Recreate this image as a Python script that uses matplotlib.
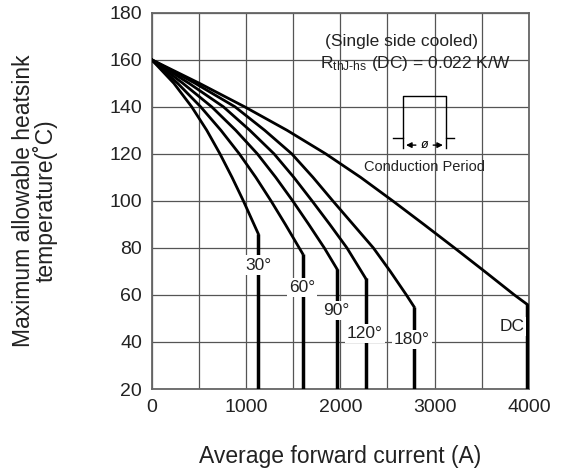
import matplotlib
matplotlib.use('Agg')
import matplotlib.pyplot as plt
from matplotlib.patches import Rectangle

plt.rcParams['font.family'] = ['Liberation Sans', 'DejaVu Sans']
plt.rcParams['mathtext.fontset'] = 'custom'
plt.rcParams['mathtext.rm'] = 'Liberation Sans'
plt.rcParams['mathtext.it'] = 'Liberation Sans:italic'

# temperature levels (degC) and matching current (A)
temp_30 = [160, 150, 140, 130, 120, 110, 100, 86, 20]
curr_30 = [0, 235, 424, 584, 724, 852, 972, 1130, 1130]

temp_60 = [160, 150, 140, 130, 120, 110, 100, 90, 80, 77.5, 20]
curr_60 = [0, 275, 519, 734, 929, 1104, 1265, 1417, 1564, 1601, 1601]

temp_90 = [160, 150, 140, 130, 120, 110, 100, 90, 80, 71, 20]
curr_90 = [0, 330, 636, 891, 1120, 1315, 1495, 1665, 1830, 1965, 1965]

temp_120 = [160, 150, 140, 130, 120, 110, 100, 90, 80, 67, 20]
curr_120 = [0, 395, 760, 1040, 1297, 1507, 1700, 1888, 2070, 2269, 2269]

temp_180 = [160, 150, 140, 130, 120, 110, 100, 90, 80, 70, 60, 55, 20]
curr_180 = [0, 460, 883, 1198, 1485, 1710, 1920, 2135, 2350, 2530, 2700, 2781, 2781]

temp_dc = [160, 150, 140, 130, 120, 110, 100, 90, 80, 70, 60, 56, 20]
curr_dc = [0, 505, 985, 1435, 1845, 2215, 2555, 2885, 3210, 3530, 3845, 3980, 3980]

curve_labels = ['30°', '60°', '90°', '120°', '180°', 'DC']
label_x = [1130, 1597, 1954, 2261, 2756, 3816]
label_y = [72.7, 63.0, 53.5, 43.6, 41.0, 46.7]

fig = plt.figure(figsize=(5.63, 4.70), dpi=100)
ax = fig.add_axes([0.2694, 0.1723, 0.6702, 0.8007])

ax.set_xlim(0, 4000)
ax.set_ylim(20, 180)
ax.set_xticks(range(0, 4001, 1000))
ax.set_xticks(range(500, 4000, 1000), minor=True)
ax.set_yticks(range(20, 181, 20))
ax.grid(True, which='both', color='#555555', lw=0.9, zorder=0)
ax.tick_params(which='both', length=0, labelsize=14, pad=7, colors='#222222')
for s in ax.spines.values():
    s.set_color('#666666')
    s.set_linewidth(1.3)

# white areas behind the annotation block
ax.add_patch(Rectangle((1678, 148), 3767 - 1678, 174.8 - 148, fc='white', ec='none', zorder=1))
ax.add_patch(Rectangle((2166, 108.8), 3565 - 2166, 145 - 108.8, fc='white', ec='none', zorder=1))

for xs, ys in [(curr_30, temp_30), (curr_60, temp_60), (curr_90, temp_90),
               (curr_120, temp_120), (curr_180, temp_180), (curr_dc, temp_dc)]:
    ax.plot(xs[:-1], ys[:-1], color='black', lw=2.0, solid_joinstyle='round', zorder=3)
    # vertical limit part is drawn a bit heavier
    ax.plot(xs[-2:], ys[-2:], color='black', lw=2.5, solid_capstyle='butt', zorder=3)

for lab, lx, ly in zip(curve_labels, label_x, label_y):
    ax.text(lx, ly, lab, fontsize=12.5, ha='center', va='center', color='#222222', zorder=4,
            bbox=dict(fc='white', ec='none', pad=1.5))

ax.text(2648, 167.7, '(Single side cooled)', fontsize=12.5, ha='center', va='center', zorder=4, color='#222222')
ax.text(2797, 158.5, r'R$_{\mathrm{thJ}\text{-}\mathrm{hs}}$ (DC) = 0.022 K/W', fontsize=12.5,
        ha='center', va='center', zorder=4, color='#222222')

# conduction period pulse sketch
ax.plot([2555, 2667, 2667, 3117, 3117, 3208], [126.6, 126.6, 144.7, 144.7, 126.6, 126.6],
        color='black', lw=1.0, zorder=4)
ax.plot([2667, 2667], [126.6, 122.3], color='black', lw=1.0, zorder=4)
ax.plot([3117, 3117], [126.6, 122.3], color='black', lw=1.0, zorder=4)
ax.annotate('', xy=(2667, 123.7), xytext=(2830, 123.7),
            arrowprops=dict(arrowstyle='-|>', lw=1.0, color='black', mutation_scale=8), zorder=4)
ax.annotate('', xy=(3117, 123.7), xytext=(2955, 123.7),
            arrowprops=dict(arrowstyle='-|>', lw=1.0, color='black', mutation_scale=8), zorder=4)
ax.text(2892, 123.9, 'ø', fontsize=9, ha='center', va='center', style='italic', zorder=4)
ax.text(2890, 114.5, 'Conduction Period', fontsize=10.5, ha='center', va='center', zorder=4, color='#222222')

ax.set_xlabel('Average forward current (A)', fontsize=16.5, labelpad=21, color='#222222')
ax.set_ylabel('Maximum allowable heatsink\ntemperature(\u02daC)', fontsize=16.5, color='#222222',
              linespacing=0.9)
ax.yaxis.label.set(ha='center', va='center')
ax.yaxis.set_label_coords(-0.31, 0.5)

fig.savefig('out.png', dpi=100)
